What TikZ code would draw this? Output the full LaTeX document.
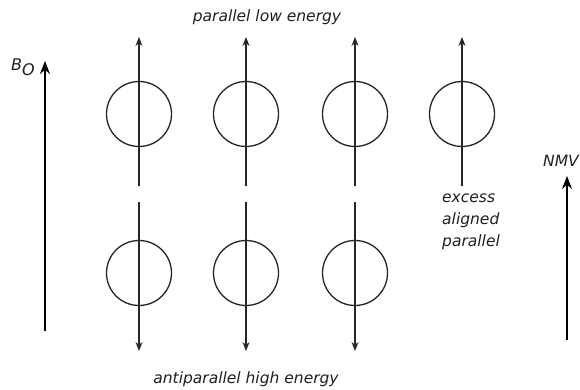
\documentclass[tikz,border=0pt]{standalone}
\usepackage{fontspec}
\setmainfont{DejaVu Sans}
\usetikzlibrary{arrows.meta}
\begin{document}
\begin{tikzpicture}[x=1pt,y=-1pt,
  spin/.style={circle,draw=black!85,line width=1.3pt,minimum size=65pt,inner sep=0pt},
  vec/.style={line width=1.2pt,draw=black!85,-{Stealth[length=9pt,width=7pt]}},
  field/.style={line width=2.6pt,-{Stealth[length=13pt,width=10pt]}},
  lbl/.style={font=\fontsize{15.5}{17}\selectfont\itshape,text=black!88}]
\useasboundingbox (0,0) rectangle (580,390);
% top row (parallel)
\foreach \i/\x in {1/139,2/246,3/355,4/462}{
  \node[spin] (t\i) at (\x,114) {};
  \coordinate (tb\i) at (\x,186);
  \coordinate (tt\i) at (\x,37);
  \draw[vec] (tb\i) -- (tt\i);
}
% bottom row (antiparallel)
\foreach \i/\x in {1/139,2/246,3/355}{
  \node[spin] (b\i) at (\x,273) {};
  \coordinate (bt\i) at (\x,202);
  \coordinate (bb\i) at (\x,351);
  \draw[vec] (bt\i) -- (bb\i);
}
% B0
\coordinate (b0s) at (45,331);
\coordinate (b0e) at (45,61);
\draw[field] (b0s) -- (b0e);
\node[lbl,anchor=base,font=\fontsize{16}{17}\selectfont\itshape] (b0) at (23,71) {B\raisebox{-5pt}{O}};
% NMV
\coordinate (ns) at (567,340);
\coordinate (ne) at (567,176);
\draw[field] (ns) -- (ne);
\node[lbl,anchor=base east,inner xsep=1pt] (nmv) at (580,166) {NMV};
% labels
\node[lbl,anchor=base] (top) at (267,22) {parallel low energy};
\node[lbl,anchor=base] (bot) at (246,383) {antiparallel high energy};
\node[lbl,anchor=north west,align=left,inner sep=0pt,font=\fontsize{15.5}{22}\selectfont\itshape] (ex) at (442,194) {excess\\aligned\\parallel};
\end{tikzpicture}
\end{document}
